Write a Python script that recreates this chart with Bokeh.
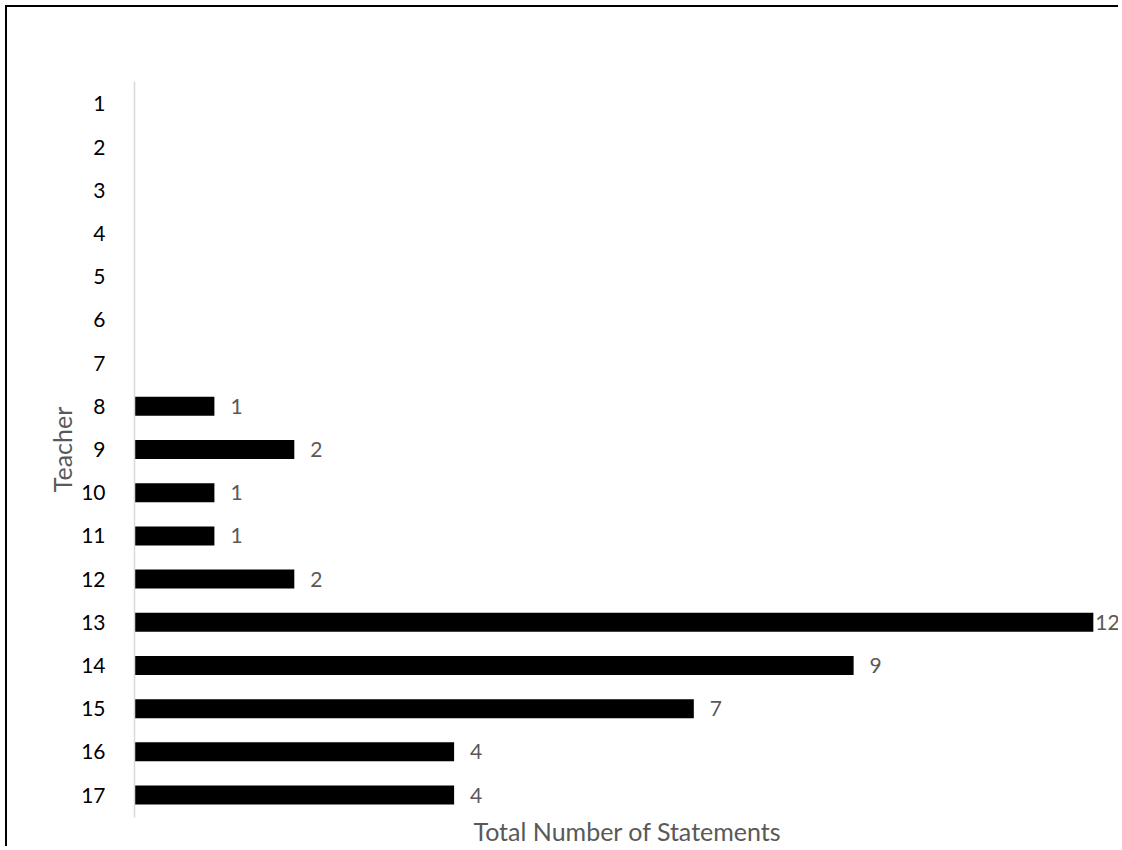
from bokeh.plotting import figure
from bokeh.models import FactorRange, Range1d, ColumnDataSource, FixedTicker, LabelSet
from bokeh.core.properties import value
from bokeh.embed import file_html
from bokeh.resources import INLINE

teachers = [str(i) for i in range(1, 18)]
statements = [0, 0, 0, 0, 0, 0, 0, 1, 2, 1, 1, 2, 12, 9, 7, 4, 4]
x_title = "Total Number of Statements"
y_title = "Teacher"

max_v = max(statements)
labels = [str(v) if v > 0 else "" for v in statements]
offsets = [2 if v == max_v else 16 for v in statements]

src = ColumnDataSource(dict(teacher=teachers, val=statements, lab=labels, off=offsets))

FONT = "Lato"

p = figure(width=1113, height=841, output_backend="svg", toolbar_location=None,
           y_range=FactorRange(factors=list(reversed(teachers)), range_padding=0.02,
                               range_padding_units="absolute"),
           x_range=Range1d(0, 12.34),
           min_border_left=127, min_border_top=74, min_border_right=0, min_border_bottom=0)
p.styles = {"border-left": "2px solid black", "border-top": "2px solid black",
            "margin-left": "5px", "margin-top": "5px"}
p.outline_line_color = None
p.xgrid.visible = False
p.ygrid.visible = False

p.hbar(y="teacher", right="val", left=0, height=0.44, source=src,
       fill_color="black", line_color=None)
p.add_layout(LabelSet(x="val", y="teacher", text="lab", x_offset="off", source=src,
                      text_baseline="middle", text_align="left", text_color="#595959",
                      text_font=value(FONT), text_font_size="21px"))

ya = p.yaxis[0]
ya.axis_line_color = "#d9d9d9"
ya.axis_line_width = 1.5
ya.major_tick_line_color = None
ya.minor_tick_line_color = None
ya.major_label_standoff = 23
ya.major_label_text_font = FONT
ya.major_label_text_font_size = "21px"
ya.major_label_text_color = "#000000"
ya.axis_label = y_title
ya.axis_label_text_font = FONT
ya.axis_label_text_font_style = "normal"
ya.axis_label_text_font_size = "25px"
ya.axis_label_text_color = "#595959"
ya.axis_label_standoff = 1

xa = p.xaxis[0]
xa.ticker = FixedTicker(ticks=[])
xa.axis_line_color = None
xa.major_tick_line_color = None
xa.minor_tick_line_color = None
xa.major_tick_out = 0
xa.major_label_standoff = 0
xa.axis_label = x_title
xa.axis_label_text_font = FONT
xa.axis_label_text_font_style = "normal"
xa.axis_label_text_font_size = "25px"
xa.axis_label_text_color = "#595959"
xa.axis_label_standoff = -2

open("out.html", "w").write(file_html(p, INLINE))
